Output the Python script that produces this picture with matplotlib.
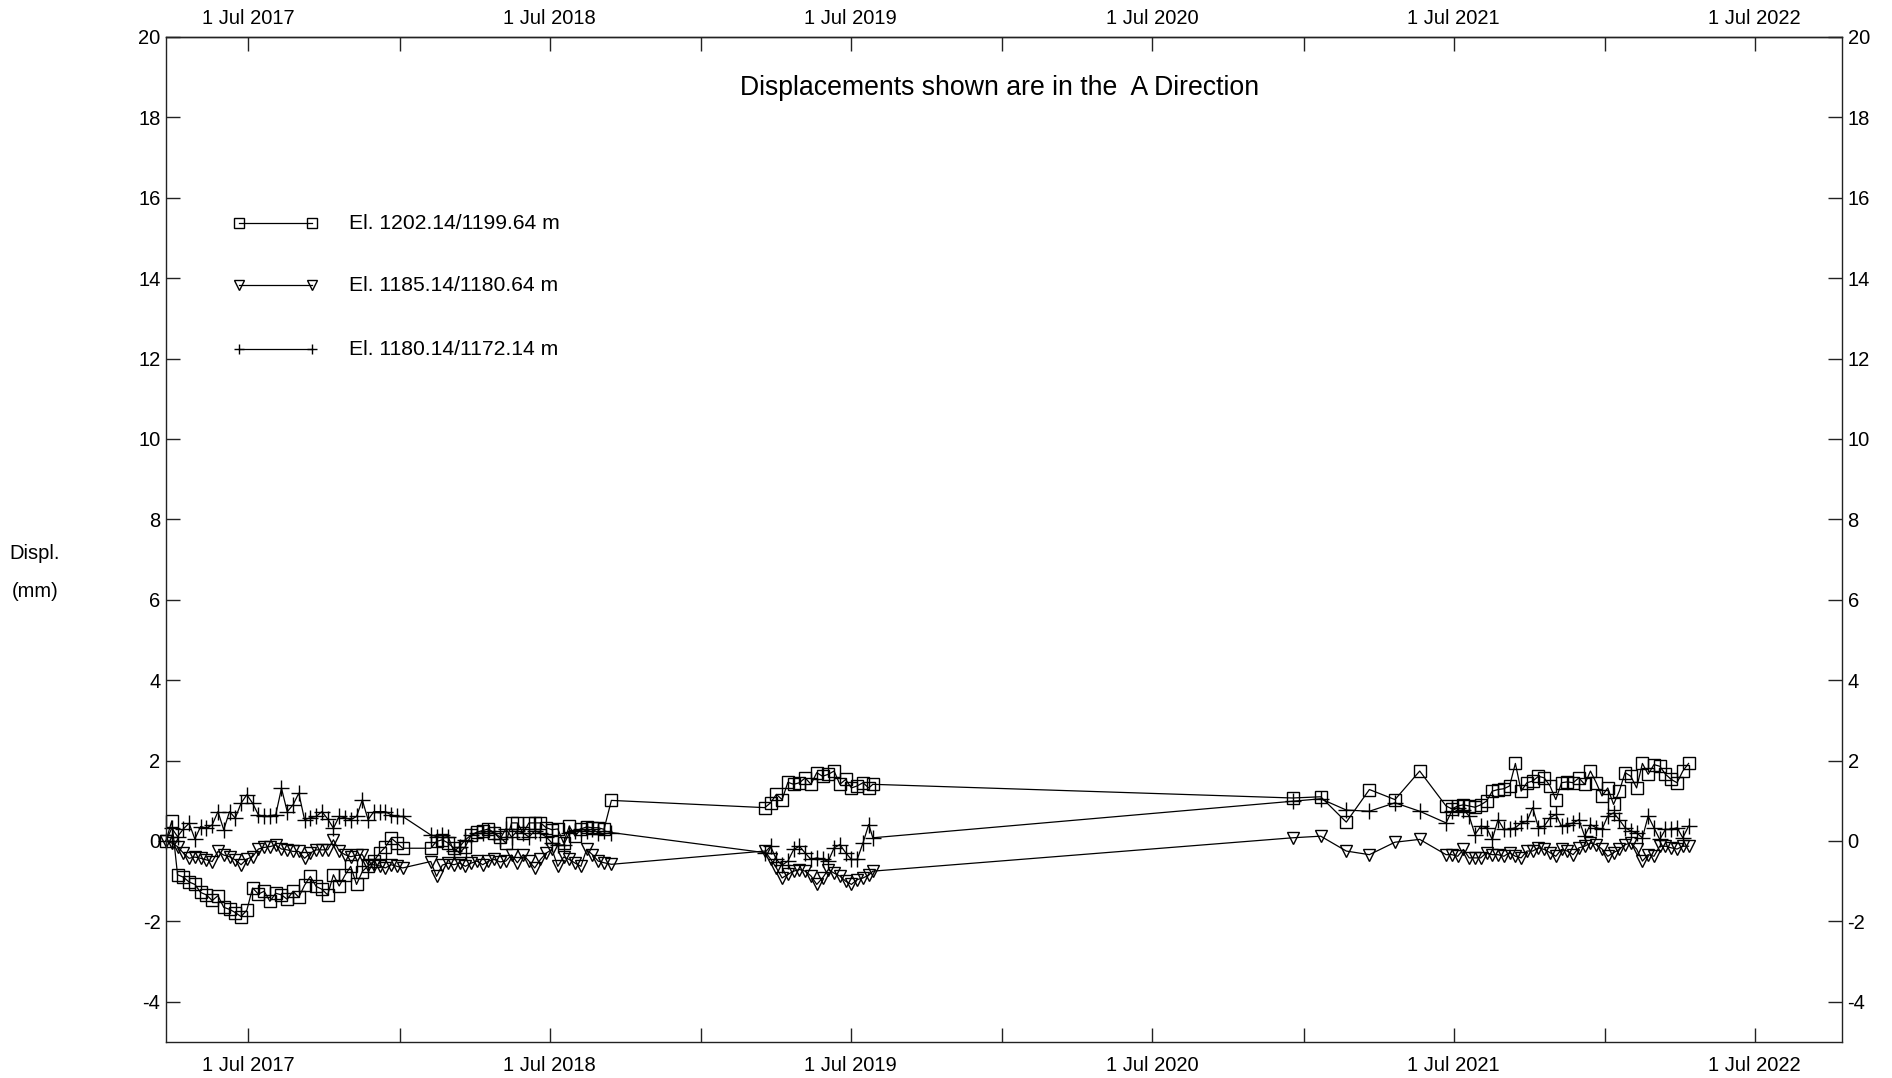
import numpy as np
import pandas as pd
import matplotlib
matplotlib.use('Agg')
import matplotlib.pyplot as plt
import matplotlib.dates as mdates
from matplotlib.ticker import FuncFormatter

plt.rcParams['font.family'] = ['Liberation Sans', 'DejaVu Sans']
plt.rcParams['axes.unicode_minus'] = False

# reading dates (weekly campaigns, with gaps between campaigns)
dates = [
    '2017-03-23', '2017-03-30', '2017-04-06', '2017-04-13', '2017-04-20', '2017-04-27',
    '2017-05-04', '2017-05-11', '2017-05-18', '2017-05-25', '2017-06-01', '2017-06-08',
    '2017-06-15', '2017-06-22', '2017-06-29', '2017-07-06', '2017-07-13', '2017-07-20',
    '2017-07-27', '2017-08-03', '2017-08-10', '2017-08-17', '2017-08-24', '2017-08-31',
    '2017-09-07', '2017-09-14', '2017-09-21', '2017-09-28', '2017-10-05', '2017-10-12',
    '2017-10-19', '2017-10-26', '2017-11-02', '2017-11-09', '2017-11-16', '2017-11-23',
    '2017-11-30', '2017-12-07', '2017-12-14', '2017-12-21', '2017-12-28', '2018-01-04',
    '2018-02-07', '2018-02-14', '2018-02-21', '2018-02-28', '2018-03-07', '2018-03-14',
    '2018-03-21', '2018-03-28', '2018-04-04', '2018-04-11', '2018-04-18', '2018-04-25',
    '2018-05-02', '2018-05-09', '2018-05-16', '2018-05-23', '2018-05-30', '2018-06-06',
    '2018-06-13', '2018-06-20', '2018-06-27', '2018-07-04', '2018-07-11', '2018-07-18',
    '2018-07-25', '2018-08-01', '2018-08-08', '2018-08-15', '2018-08-22', '2018-08-29',
    '2018-09-05', '2018-09-14',
    '2019-03-19', '2019-03-26', '2019-04-02', '2019-04-09', '2019-04-16', '2019-04-23',
    '2019-04-30', '2019-05-07', '2019-05-14', '2019-05-21', '2019-05-28', '2019-06-04',
    '2019-06-11', '2019-06-18', '2019-06-25', '2019-07-02', '2019-07-09', '2019-07-16',
    '2019-07-23', '2019-07-28',
    '2020-12-18', '2021-01-21', '2021-02-21', '2021-03-21', '2021-04-21', '2021-05-21',
    '2021-06-22', '2021-06-29', '2021-07-06', '2021-07-13', '2021-07-20', '2021-07-27',
    '2021-08-03', '2021-08-10', '2021-08-17', '2021-08-24', '2021-08-31', '2021-09-07',
    '2021-09-14', '2021-09-21', '2021-09-28', '2021-10-05', '2021-10-12', '2021-10-19',
    '2021-10-26', '2021-11-02', '2021-11-09', '2021-11-16', '2021-11-23', '2021-11-30',
    '2021-12-07', '2021-12-14', '2021-12-21', '2021-12-28', '2022-01-04', '2022-01-11',
    '2022-01-18', '2022-01-25', '2022-02-01', '2022-02-08', '2022-02-15', '2022-02-22',
    '2022-03-01', '2022-03-08', '2022-03-15', '2022-03-22', '2022-03-29', '2022-04-05',
    '2022-04-12',
]

# displacement (mm) per elevation interval
disp_1202 = [
    0.00, 0.50, -0.84, -0.90, -1.02, -1.08, -1.28, -1.34, -1.48, -1.36, -1.65, -1.70,
    -1.78, -1.88, -1.72, -1.17, -1.32, -1.25, -1.50, -1.30, -1.34, -1.45, -1.25, -1.40,
    -1.10, -0.88, -1.13, -1.20, -1.34, -0.84, -1.12, -0.85, -0.63, -1.08, -0.76, -0.62,
    -0.50, -0.30, -0.15, 0.07, -0.05, -0.18,
    -0.18, -0.01, 0.03, -0.05, -0.18, -0.30, -0.14, 0.15, 0.22, 0.26, 0.30, 0.20,
    0.10, -0.05, 0.45, 0.45, 0.20, 0.45, 0.45, 0.45, 0.33, 0.28, 0.30, -0.05,
    0.37, 0.12, 0.30, 0.35, 0.33, 0.33, 0.29, 1.01,
    0.83, 0.95, 1.16, 1.03, 1.46, 1.41, 1.45, 1.57, 1.41, 1.70, 1.61, 1.66,
    1.74, 1.41, 1.53, 1.32, 1.37, 1.45, 1.32, 1.41,
    1.07, 1.10, 0.47, 1.28, 1.03, 1.74,
    0.87, 0.80, 0.87, 0.90, 0.87, 0.84, 0.90, 0.99, 1.24, 1.28, 1.30, 1.37,
    1.93, 1.24, 1.45, 1.49, 1.61, 1.57, 1.37, 1.03, 1.45, 1.47, 1.45, 1.57,
    1.41, 1.74, 1.45, 1.12, 1.32, 0.91, 1.24, 1.70, 1.61, 1.32, 1.93, 1.66,
    1.90, 1.86, 1.66, 1.53, 1.45, 1.74, 1.93,
]

disp_1185 = [
    0.00, -0.05, -0.14, -0.30, -0.43, -0.40, -0.43, -0.47, -0.51, -0.26, -0.35, -0.39,
    -0.47, -0.59, -0.45, -0.39, -0.20, -0.16, -0.14, -0.10, -0.20, -0.22, -0.26, -0.26,
    -0.43, -0.30, -0.22, -0.22, -0.22, 0.03, -0.25, -0.34, -0.39, -0.36, -0.34, -0.59,
    -0.59, -0.62, -0.67, -0.59, -0.63, -0.67,
    -0.51, -0.88, -0.60, -0.55, -0.59, -0.55, -0.63, -0.55, -0.50, -0.59, -0.50, -0.46,
    -0.52, -0.50, -0.35, -0.54, -0.34, -0.50, -0.67, -0.46, -0.30, -0.21, -0.63, -0.40,
    -0.46, -0.55, -0.63, -0.21, -0.34, -0.50, -0.54, -0.58,
    -0.25, -0.45, -0.67, -0.92, -0.83, -0.75, -0.71, -0.75, -0.87, -1.08, -0.92, -0.71,
    -0.80, -0.87, -1.00, -1.08, -0.96, -0.92, -0.85, -0.75,
    0.08, 0.12, -0.25, -0.34, -0.03, 0.04,
    -0.34, -0.34, -0.38, -0.21, -0.42, -0.42, -0.42, -0.29, -0.34, -0.34, -0.38, -0.29,
    -0.38, -0.42, -0.25, -0.25, -0.17, -0.21, -0.29, -0.38, -0.21, -0.25, -0.34, -0.17,
    -0.13, -0.05, -0.09, -0.20, -0.38, -0.29, -0.21, -0.09, -0.05, -0.20, -0.50, -0.34,
    -0.38, -0.13, -0.13, -0.17, -0.20, -0.13, -0.13,
]

disp_1180 = [
    0.00, 0.32, 0.11, 0.30, 0.44, 0.05, 0.36, 0.32, 0.40, 0.73, 0.28, 0.73,
    0.57, 0.94, 1.15, 0.94, 0.65, 0.61, 0.63, 0.65, 1.31, 0.73, 0.90, 1.19,
    0.53, 0.58, 0.61, 0.73, 0.55, 0.32, 0.61, 0.58, 0.53, 0.61, 1.02, 0.53,
    0.73, 0.73, 0.73, 0.65, 0.61, 0.61,
    0.15, 0.11, 0.15, 0.11, -0.26, -0.14, 0.03, 0.15, 0.19, 0.20, 0.25, 0.20,
    0.05, 0.30, 0.10, 0.25, 0.20, 0.10, 0.25, 0.20, 0.10, -0.05, -0.10, -0.10,
    0.20, 0.25, 0.30, 0.25, 0.30, 0.20, 0.25, 0.21,
    -0.29, -0.13, -0.46, -0.60, -0.50, -0.21, -0.13, -0.30, -0.46, -0.42, -0.46, -0.50,
    -0.17, -0.09, -0.29, -0.46, -0.46, -0.05, 0.41, 0.08,
    0.99, 1.05, 0.77, 0.74, 0.95, 0.74,
    0.45, 0.75, 0.83, 0.78, 0.62, 0.16, 0.37, 0.33, 0.04, 0.53, 0.29, 0.29,
    0.33, 0.45, 0.49, 0.83, 0.33, 0.37, 0.58, 0.66, 0.37, 0.41, 0.45, 0.53,
    0.12, 0.41, 0.33, 0.29, 0.62, 0.70, 0.53, 0.33, 0.25, 0.20, 0.08, 0.62,
    0.33, 0.04, 0.29, 0.29, 0.33, 0.08, 0.37,
]

labels = ['El. 1202.14/1199.64 m', 'El. 1185.14/1180.64 m', 'El. 1180.14/1172.14 m']
markers = ['s', 'v', '+']
msizes = [8, 9, 11]

t = pd.to_datetime(dates)

fig = plt.figure(figsize=(18.92, 10.78), dpi=100)
ax = fig.add_axes([166 / 1892, 1 - 1042 / 1078, 1676 / 1892, 1005 / 1078])

for y, m, ms in zip([disp_1202, disp_1185, disp_1180], markers, msizes):
    ax.plot(t, y, color='black', lw=0.9, marker=m, ms=ms, mfc='none',
            mec='black', mew=1.0, clip_on=False)

# legend drawn by hand, line with a marker at each end
leg_y = [0.8146, 0.7528, 0.6891]
for yy, m, lab in zip(leg_y, markers, labels):
    ax.plot([0.0436, 0.0871], [yy, yy], transform=ax.transAxes, color='black',
            lw=0.9, marker=m, ms=7, mfc='none', mec='black', mew=1.0)
    ax.text(0.109, yy, lab, transform=ax.transAxes, fontsize=15.2,
            va='center', ha='left')

ax.text(0.4974, 0.9495, 'Displacements shown are in the  A Direction',
        transform=ax.transAxes, fontsize=19.2, ha='center', va='center')

fig.text(0.0185, 0.487, 'Displ.', fontsize=14.5, ha='center', va='center')
fig.text(0.0185, 0.451, '(mm)', fontsize=14.5, ha='center', va='center')

ax.set_xlim(pd.Timestamp('2017-03-23'), pd.Timestamp('2022-10-15'))
ax.set_ylim(-5, 20)
ax.set_yticks(np.arange(-4, 21, 2))


def jul_label(x, pos):
    d = mdates.num2date(x)
    return '1 Jul %d' % d.year if d.month == 7 else ''


ax.xaxis.set_major_locator(mdates.MonthLocator(bymonth=[1, 7]))
ax.xaxis.set_major_formatter(FuncFormatter(jul_label))

tick_kw = dict(direction='in', length=10, width=1.0, labelsize=14.5, color='#222222')
ax.tick_params(axis='both', **tick_kw)
ax.tick_params(axis='x', pad=10)
ax.tick_params(axis='y', left=True, right=True, labelright=True, pad=4)

# top date axis, same ticks, a little closer to the frame
top = ax.secondary_xaxis('top')
top.xaxis.set_major_locator(mdates.MonthLocator(bymonth=[1, 7]))
top.xaxis.set_major_formatter(FuncFormatter(jul_label))
top.tick_params(axis='x', pad=6.3, **tick_kw)

for s in list(ax.spines.values()) + list(top.spines.values()):
    s.set_linewidth(1.0)
    s.set_color('#222222')

fig.savefig('out.png', dpi=100)
